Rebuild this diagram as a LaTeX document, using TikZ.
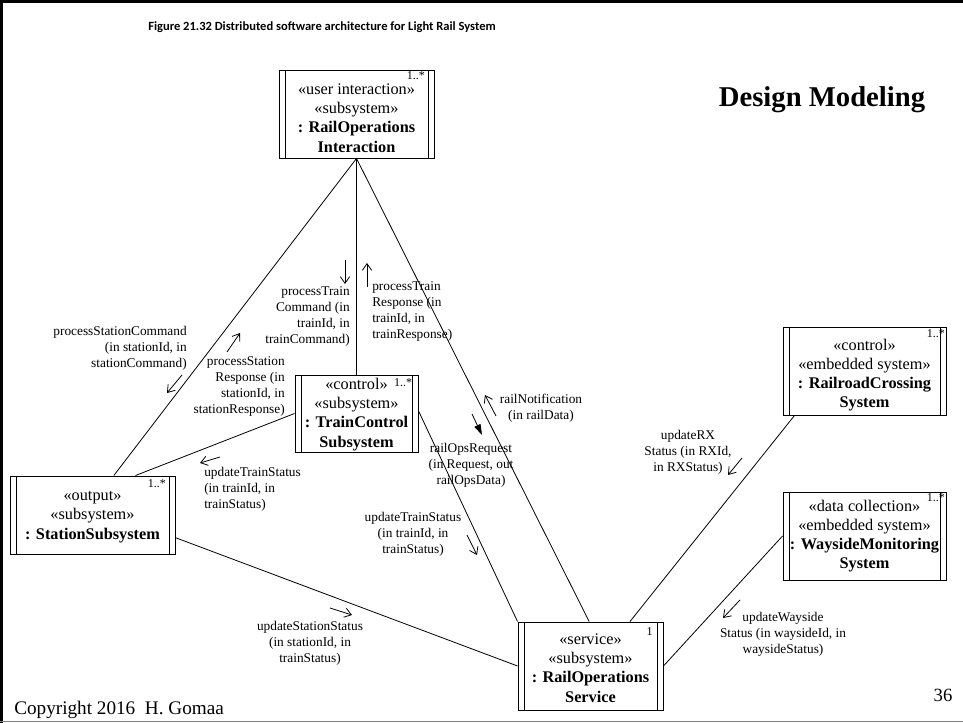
\documentclass[tikz,border=0pt]{standalone}
\usepackage{fontspec}
\setmainfont{Liberation Serif}
\newfontfamily\titlefont{Carlito}
\usetikzlibrary{arrows.meta}
\begin{document}
\begin{tikzpicture}[x=0.75pt,y=-0.75pt,
  obj/.style={draw, line width=0.7pt, rectangle, inner sep=0pt,
    path picture={\draw[line width=0.7pt]
      ([xshift=4.5pt]path picture bounding box.north west) -- ([xshift=4.5pt]path picture bounding box.south west)
      ([xshift=-4.5pt]path picture bounding box.north east) -- ([xshift=-4.5pt]path picture bounding box.south east);}},
  objtext/.style={inner sep=0pt, align=center, font=\fontsize{12.2}{14.4}\selectfont},
  lbl/.style={font=\fontsize{10}{12}\selectfont, inner sep=0pt},
  mult/.style={font=\fontsize{9}{10}\selectfont, inner sep=0pt, anchor=north east},
  conn/.style={line width=0.6pt},
  msg/.style={line width=0.6pt, -{Straight Barb[length=5pt,width=7pt]}},
  msgfill/.style={line width=0.6pt, -{Triangle[length=8pt,width=5pt]}}
]
\useasboundingbox (0,0) rectangle (963,723);
% frame
\draw[line width=2.2pt] (0,1.5) -- (963,1.5);
\draw[line width=2.2pt] (1.5,0) -- (1.5,723);
\draw[line width=0.8pt, gray] (0,721.5) -- (963,721.5);

% titles
\node[font=\titlefont\bfseries\fontsize{9.4}{11}\selectfont, inner sep=0pt] (title) at (322,27)
  {Figure 21.32 Distributed software architecture for Light Rail System};
\node[font=\bfseries\fontsize{21.5}{24}\selectfont, inner sep=0pt] (dm) at (822,100) {Design Modeling};
\node[font=\fontsize{14.4}{16}\selectfont, inner sep=0pt, anchor=west] (copy) at (14,710) {Copyright 2016~~H. Gomaa};
\node[font=\fontsize{14}{16}\selectfont, inner sep=0pt] (pg) at (943,695) {36};

% objects
\node[obj, minimum width=116.25pt, minimum height=66pt] (inter) at (356.5,114) {};
\node[objtext] (inter-t) at (356.5,118)
  {«user interaction»\\«subsystem»\\\textbf{: RailOperations}\\\textbf{Interaction}};
\node[mult] (m1) at ([xshift=-7pt,yshift=-1.5pt]inter.north east) {1..*};

\node[obj, minimum width=92.25pt, minimum height=57.75pt] (tc) at (356.5,413.5) {};
\node[objtext] (tc-t) at (356.5,414.5)
  {«control»\\«subsystem»\\\textbf{: TrainControl}\\\textbf{Subsystem}};
\node[mult] (m2) at ([xshift=-4.5pt,yshift=-3pt]tc.north east) {1..*};

\node[obj, minimum width=123.75pt, minimum height=58.5pt] (st) at (92.5,515) {};
\node[objtext] (st-t) at (92.5,517)
  {«output»\\«subsystem»\\\textbf{: StationSubsystem}};
\node[mult] (m3) at ([xshift=-7pt,yshift=-3pt]st.north east) {1..*};

\node[obj, minimum width=108.75pt, minimum height=66pt] (ros) at (590.5,666) {};
\node[objtext] (ros-t) at (590.5,668)
  {«service»\\«subsystem»\\\textbf{: RailOperations}\\\textbf{Service}};
\node[mult] (m4) at ([xshift=-8pt,yshift=-4pt]ros.north east) {1};

\node[obj, minimum width=122.25pt, minimum height=66pt] (rx) at (864.5,371) {};
\node[objtext] (rx-t) at (864.5,375)
  {«control»\\«embedded system»\\\textbf{: RailroadCrossing}\\\textbf{System}};
\node[mult] (m5) at ([xshift=-1pt,yshift=-2pt]rx.north east) {1..*};

\node[obj, minimum width=122.25pt, minimum height=66pt] (wm) at (864.5,536) {};
\node[objtext] (wm-t) at (864.5,536)
  {«data collection»\\«embedded system»\\\textbf{: WaysideMonitoring}\\\textbf{System}};
\node[mult] (m6) at ([xshift=-1pt,yshift=-1pt]wm.north east) {1..*};

% connectors
\draw[conn] (inter.south) -- (tc.north);
\draw[conn] (inter.south) -- ([xshift=-1pt]ros.north);
\draw[conn] (inter.south) -- ([xshift=16pt]st.north);
\draw[conn] (tc.west) -- ([xshift=-30pt]st.north east);
\draw[conn] ([yshift=2pt]tc.east) -- (ros.north west);
\draw[conn] ([yshift=-17pt]st.east) -- (ros.west);
\draw[conn] ([xshift=9pt]rx.south west) -- ([xshift=29.6pt]ros.north);
\draw[conn] (wm.west) -- (ros.east);

% message labels
\node[lbl, anchor=east, align=right] (l1) at (350,317)
  {processTrain\\Command (in\\trainId, in\\trainCommand)};
\node[lbl, anchor=west, align=left] (l2) at (372,312)
  {processTrain\\Response (in\\trainId, in\\trainResponse)};
\node[lbl, anchor=east, align=right] (l3) at (187,348)
  {processStationCommand\\(in stationId, in\\stationCommand)};
\node[lbl, anchor=east, align=right] (l4) at (285,387)
  {processStation\\Response (in\\stationId, in\\stationResponse)};
\node[lbl, anchor=west, align=left] (l5) at (204,489)
  {updateTrainStatus\\(in trainId, in\\trainStatus)};
\node[lbl, align=center] (l6) at (471,465)
  {railOpsRequest\\(in Request, out\\railOpsData)};
\node[lbl, align=center] (l7) at (541,408)
  {railNotification\\(in railData)};
\node[lbl, align=center] (l8) at (413,534)
  {updateTrainStatus\\(in trainId, in\\trainStatus)};
\node[lbl, align=center] (l9) at (310,643)
  {updateStationStatus\\(in stationId, in\\trainStatus)};
\node[lbl, align=center] (l10) at (688,452)
  {updateRX\\Status (in RXId,\\in RXStatus)};
\node[lbl, align=center] (l11) at (783,634)
  {updateWayside\\Status (in waysideId, in\\waysideStatus)};

% message arrows
\coordinate (a1s) at (345,260); \coordinate (a1e) at (345,284);
\coordinate (a2s) at (367,287); \coordinate (a2e) at (367,263);
\coordinate (a3s) at (182,375); \coordinate (a3e) at (167,393);
\coordinate (a4s) at (227,352); \coordinate (a4e) at (240,333);
\coordinate (a5s) at (220,457); \coordinate (a5e) at (200,463);
\coordinate (a6s) at (472,414); \coordinate (a6e) at (482,435);
\coordinate (a7s) at (496,416); \coordinate (a7e) at (485,395);
\coordinate (a8s) at (467,535); \coordinate (a8e) at (477,555);
\coordinate (a9s) at (330,608); \coordinate (a9e) at (352,615);
\coordinate (a10s) at (742,458); \coordinate (a10e) at (728,475);
\coordinate (a11s) at (740,600); \coordinate (a11e) at (723,618);
\draw[msg] (a1s) -- (a1e);
\draw[msg] (a2s) -- (a2e);
\draw[msg] (a3s) -- (a3e);
\draw[msg] (a4s) -- (a4e);
\draw[msg] (a5s) -- (a5e);
\draw[msgfill] (a6s) -- (a6e);
\draw[msg] (a7s) -- (a7e);
\draw[msg] (a8s) -- (a8e);
\draw[msg] (a9s) -- (a9e);
\draw[msg] (a10s) -- (a10e);
\draw[msg] (a11s) -- (a11e);
\end{tikzpicture}
\end{document}
